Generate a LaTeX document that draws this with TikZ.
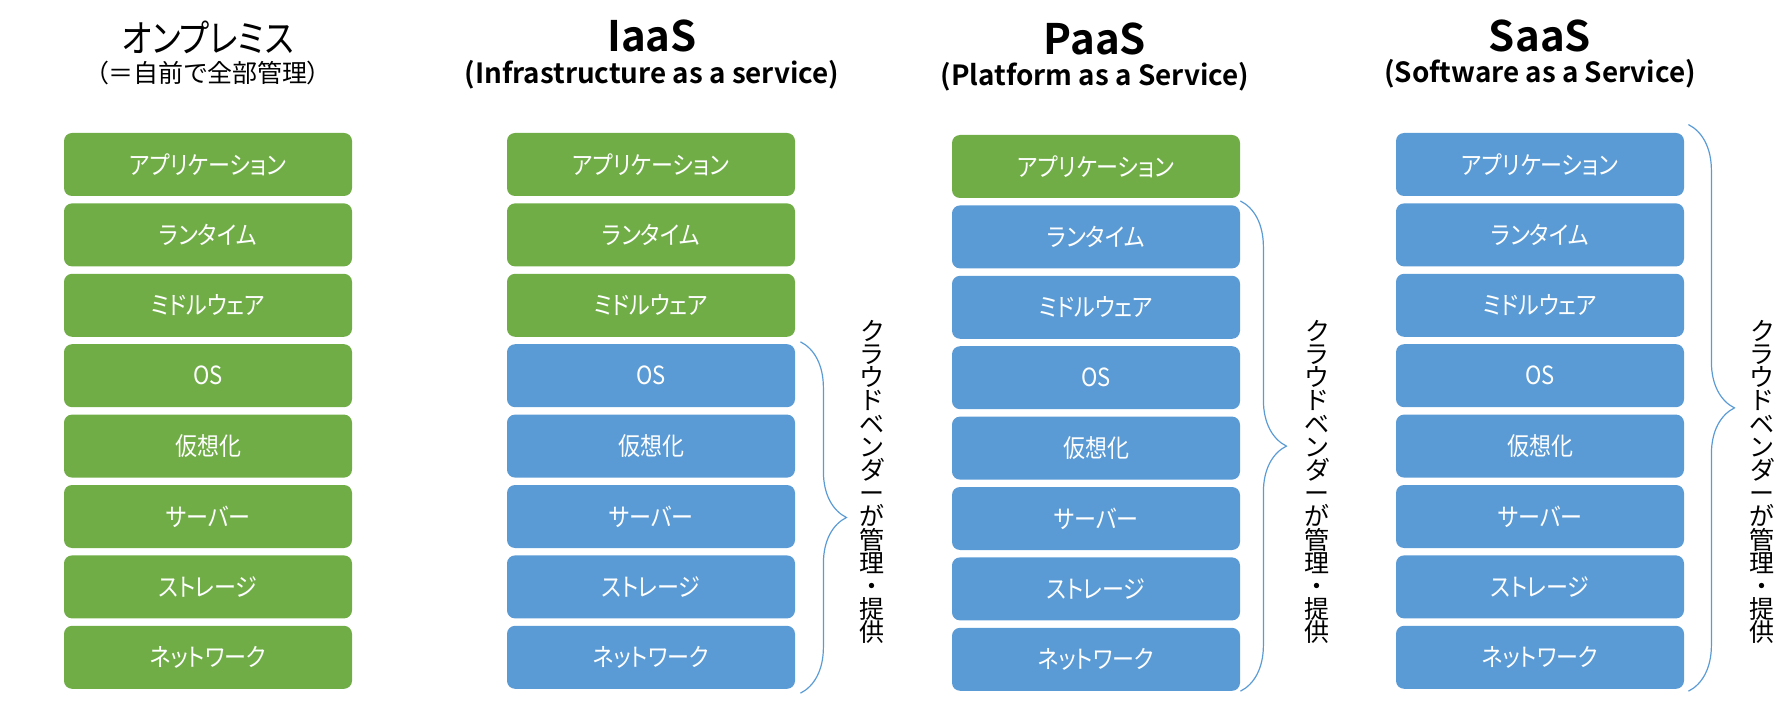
\documentclass[tikz,border=0pt]{standalone}
\usepackage{fontspec}
\setmainfont{Noto Sans CJK JP}[RawFeature=+palt, BoldFont={Noto Sans CJK JP Bold}]
\newfontfamily\layerfont{Noto Sans CJK JP}[RawFeature=+palt, FakeStretch=0.88]
\newfontfamily\headfont{Noto Sans CJK JP}[RawFeature=+palt, FakeStretch=0.85]
\usetikzlibrary{decorations.pathreplacing}

\definecolor{owngreen}{HTML}{70AD47}
\definecolor{vendorblue}{HTML}{5B9BD5}

\newcommand{\cloudtext}{ク\\ラ\\ウ\\ド\\ベ\\ン\\ダ\\ー\\が\\管\\理\\・\\提\\供}
\newcommand{\tightlines}{\setlength{\lineskiplimit}{-100pt}\setlength{\lineskip}{0pt}}

\tikzset{
  layer/.style={rounded corners=4pt, minimum width=144pt, minimum height=31.5pt,
    inner sep=0pt, text=white, font=\layerfont\fontsize{12.5}{14}\selectfont},
  own/.style={layer, fill=owngreen},
  vendor/.style={layer, fill=vendorblue},
  jtitle/.style={font=\headfont\fontsize{19}{21}\selectfont},
  jsub/.style={font=\fontsize{12.5}{14}\selectfont},
  bigtitle/.style={font=\bfseries\fontsize{21}{23}\selectfont},
  subtitle/.style={font=\bfseries\fontsize{13.9}{15}\selectfont},
  vtext/.style={align=center, inner sep=0pt,
    font=\fontsize{12.5}{11.6}\selectfont\tightlines},
  vbrace/.style={draw=vendorblue, line width=0.6pt, decorate,
    decoration={brace, amplitude=23pt}},
}

\begin{document}
\begin{tikzpicture}[x=0.5pt, y=-0.5pt]
  \useasboundingbox (0,0) rectangle (1788,716);

  % titles
  \node[jtitle] (onptitle) at (208,37) {オンプレミス};
  \node[jsub] (onpsub) at (208,73) {（＝自前で全部管理）};
  \node[bigtitle] (iaastitle) at (652,36) {IaaS};
  \node[subtitle] (iaassub) at (652,75) {(Infrastructure as a service)};
  \node[bigtitle] (paastitle) at (1095,39) {PaaS};
  \node[subtitle] (paassub) at (1095,77) {(Platform as a Service)};
  \node[bigtitle] (saastitle) at (1540,36) {SaaS};
  \node[subtitle] (saassub) at (1540,74) {(Software as a Service)};

  % stacks of layers: name / centre x / shift y / number of green layers
  \foreach \col/\cx/\dy/\ngreen in {onp/208/0/8, iaas/651/0/3, paas/1096/2/1, saas/1540/0/0} {
    \foreach \lbl [count=\i] in {アプリケーション, ランタイム, ミドルウェア, OS,
                                 仮想化, サーバー, ストレージ, ネットワーク} {
      \ifnum\i>\ngreen \def\kind{vendor}\else \def\kind{own}\fi
      \node[\kind] (\col\i) at ({\cx}, {94.1+70.4*\i+\dy}) {\lbl};
    }
  }

  % braces
  \draw[vbrace] ([xshift=2.5pt, yshift=1pt]iaas4.north east) -- ([xshift=2.5pt, yshift=-2pt]iaas8.south east);
  \draw[vbrace] ([xshift=0pt, yshift=2pt]paas2.north east) -- ([xshift=0pt]paas8.south east);
  \draw[vbrace] ([xshift=2pt, yshift=4pt]saas1.north east) -- ([xshift=2pt, yshift=-1pt]saas8.south east);

  % vendor labels
  \node[vtext] (iaasvendor) at (872,482) {\cloudtext};
  \node[vtext] (paasvendor) at (1317,482) {\cloudtext};
  \node[vtext] (saasvendor) at (1762,482) {\cloudtext};
\end{tikzpicture}
\end{document}
